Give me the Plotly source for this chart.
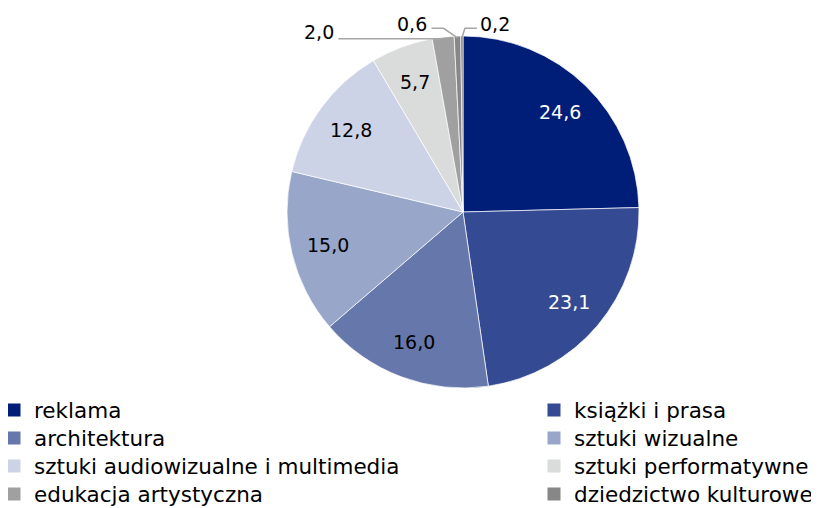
import math
import plotly.graph_objects as go

categories = ["reklama", "książki i prasa", "architektura", "sztuki wizualne",
              "sztuki audiowizualne i multimedia", "sztuki performatywne",
              "edukacja artystyczna", "dziedzictwo kulturowe", "archiwa i biblioteki"]
values = [24.6, 23.1, 16.0, 15.0, 12.8, 5.7, 2.0, 0.6, 0.2]
labels_text = ["24,6", "23,1", "16,0", "15,0", "12,8", "5,7", "2,0", "0,6", "0,2"]
colors = ["#001E78", "#344A92", "#6577AB", "#98A6C9", "#CDD3E6", "#DADBDB",
          "#A0A0A0", "#878787", "#747474"]
text_colors = ["white", "white", "black", "black", "black", "black", "black", "black", "black"]
n_inside = 6
n_legend = 8

FONT = "DejaVu Sans"
W, H = 819, 508
OFF = 8  # page offset of the figure inside the browser window
# pie placement (window pixels)
CX, CY, R = 463 - OFF, 212 - OFF, 176
dom_x = [(CX - R) / W, (CX + R) / W]
dom_y = [1 - (CY + R) / H, 1 - (CY - R) / H]

fig = go.Figure()
fig.add_trace(go.Pie(
    labels=categories, values=values, textinfo="none",
    sort=False, direction="clockwise", rotation=0,
    marker=dict(colors=colors, line=dict(color="white", width=0.7)),
    domain=dict(x=dom_x, y=dom_y),
    showlegend=False, hoverinfo="label+value",
))

total = sum(values)
cum = 0.0
mids = []
for v in values:
    mids.append(2 * math.pi * (cum + v / 2) / total)
    cum += v


def to_paper(theta, rad):
    return ((CX + rad * math.sin(theta)) / W,
            1 - (CY - rad * math.cos(theta)) / H)


# inside labels
for i in range(n_inside):
    px, py = to_paper(mids[i], 0.79 * R)
    fig.add_annotation(x=px, y=py, xref="paper", yref="paper",
                       text=labels_text[i], showarrow=False,
                       xanchor="center", yanchor="middle",
                       font=dict(family=FONT, size=19, color=text_colors[i]))

# outside labels with leader lines for the small slices
label_styles = {
    6: ("M0,0 L-105,0", -124, 7),
    7: ("M0,0 L-14,9.5 L-26,9.5", -46, 14),
    8: ("M0,0 L3,9.5 L15,9.5", 33, 14),
}
for i, (path, dx, dy) in label_styles.items():
    ax_p, ay_p = to_paper(mids[i], 0.99 * R)
    fig.add_shape(type="path", xref="paper", yref="paper",
                  xsizemode="pixel", ysizemode="pixel",
                  xanchor=ax_p, yanchor=ay_p, path=path,
                  line=dict(color="#A6A6A6", width=1.5))
    fig.add_annotation(x=ax_p, y=ay_p, xref="paper", yref="paper",
                       text=labels_text[i], showarrow=False,
                       xanchor="center", yanchor="middle",
                       xshift=dx, yshift=dy,
                       font=dict(family=FONT, size=19, color="black"))

# legend: two columns, one legend box per entry
col_x = [-14 / W, 526 / W]
row_y0, row_dy = 410 - OFF, 28
legends = {}
for i in range(n_legend):
    name = "legend" if i == 0 else f"legend{i + 1}"
    fig.add_trace(go.Scatter(
        x=[None], y=[None], mode="markers", name=categories[i],
        marker=dict(symbol="square", size=13, color=colors[i]),
        legend=name, showlegend=True,
    ))
    legends[name] = dict(
        x=col_x[i % 2], y=1 - (row_y0 + row_dy * (i // 2)) / H,
        xanchor="left", yanchor="middle",
        bgcolor="rgba(0,0,0,0)", font=dict(family=FONT, size=21.5, color="black"),
        itemclick=False, itemdoubleclick=False,
    )

fig.update_layout(
    width=W, height=H,
    margin=dict(l=0, r=0, t=0, b=0, autoexpand=False),
    paper_bgcolor="white", plot_bgcolor="white",
    font=dict(family=FONT, size=20, color="black"),
    xaxis=dict(visible=False), yaxis=dict(visible=False),
    **legends,
)

fig.write_html("out.html")
